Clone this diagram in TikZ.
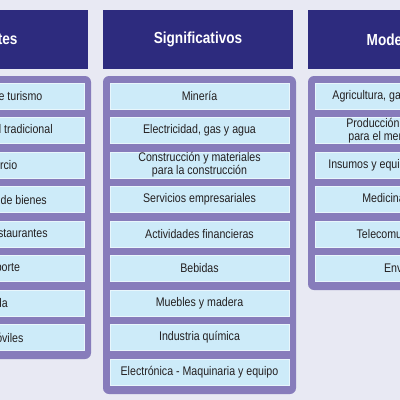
\documentclass[tikz,border=0pt]{standalone}
\usepackage{fontspec}
\setmainfont{Liberation Sans}[FakeStretch=0.85]
\definecolor{fondo}{HTML}{E8E9F3}
\definecolor{azul}{HTML}{2D2B7E}
\definecolor{lila}{HTML}{877CBB}
\definecolor{celeste}{HTML}{CDEBF9}
\definecolor{texto}{HTML}{231F20}
\begin{document}
\begin{tikzpicture}[x=1pt, y=-1pt,
  titulo/.style={fill=azul, text=white, minimum width=190pt, minimum height=59pt,
    inner sep=0pt, font=\fontsize{16}{19}\selectfont\bfseries},
  rubro/.style={fill=celeste, draw=white!55!celeste, line width=0.8pt, text=texto,
    minimum width=179pt, minimum height=26pt, inner sep=0pt, align=center,
    font=\fontsize{12.5}{12.8}\selectfont}]
\useasboundingbox (0,0) rectangle (400,400);
\clip (0,0) rectangle (400,400);
\fill[fondo] (0,0) rectangle (400,400);

% encabezados
\node[titulo] (tFue) at (-7,39.5) {Fuertes};
\node[titulo] (tSig) at (198,39.5) {Significativos};
\node[titulo] (tMod) at (403,39.5) {Moderados};

% paneles
\fill[lila, rounded corners=6pt] (-102,76) rectangle (91,359);
\fill[lila, rounded corners=6pt] (103,76) rectangle (296,394);
\fill[lila, rounded corners=6pt] (308,76) rectangle (501,290);

% columna izquierda
\node[rubro] (fue1) at (-5.5,96) {Servicios de turismo};
\node[rubro] (fue2) at (-5.5,130.5) {Agroindustrial tradicional};
\node[rubro] (fue3) at (-5.5,165) {Comercio};
\node[rubro] (fue4) at (-5.5,199.5) {Distribución de bienes};
\node[rubro] (fue5) at (-5.5,234) {Hoteles y restaurantes};
\node[rubro] (fue6) at (-5.5,268.5) {Transporte};
\node[rubro] (fue7) at (-5.5,303) {Moda};
\node[rubro] (fue8) at (-5.5,337.5) {Automóviles};

% columna central
\node[rubro] (sig1) at (199.5,96) {Minería};
\node[rubro] (sig2) at (199.5,130.5) {Electricidad, gas y agua};
\node[rubro] (sig3) at (199.5,165) {Construcción y materiales\\para la construcción};
\node[rubro] (sig4) at (199.5,199.5) {Servicios empresariales};
\node[rubro] (sig5) at (199.5,234) {Actividades financieras};
\node[rubro] (sig6) at (199.5,268.5) {Bebidas};
\node[rubro] (sig7) at (199.5,303) {Muebles y madera};
\node[rubro] (sig8) at (199.5,337.5) {Industria química};
\node[rubro] (sig9) at (199.5,372) {Electrónica - Maquinaria y equipo};

% columna derecha
\node[rubro] (mod1) at (404.5,96) {Agricultura, ganadería y pesca};
\node[rubro] (mod2) at (404.5,130.5) {Producción de alimentos\\para el mercado interno};
\node[rubro] (mod3) at (404.5,165) {Insumos y equipos para la salud};
\node[rubro] (mod4) at (404.5,199.5) {Medicina prepaga};
\node[rubro] (mod5) at (404.5,234) {Telecomunicaciones};
\node[rubro] (mod6) at (404.5,268.5) {Envases};

\end{tikzpicture}
\end{document}
